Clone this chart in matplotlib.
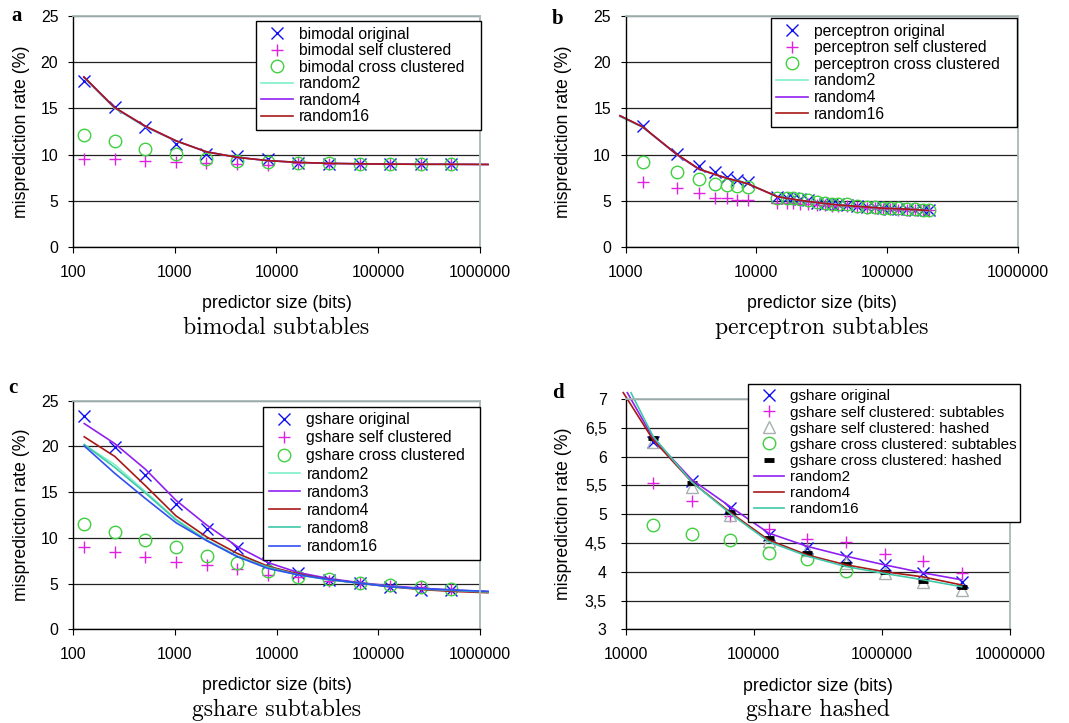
import matplotlib.pyplot as plt
import matplotlib.ticker as ticker

plt.rcParams['font.family'] = ['Liberation Sans', 'DejaVu Sans']

# ---------------- data ----------------
# panel a: bimodal subtables
a_size = [128, 256, 512, 1024, 2048, 4096, 8192, 16384, 32768, 65536,
          131072, 262144, 524288]
a_orig = [18.0, 15.2, 13.0, 11.1, 10.1, 9.8, 9.5, 9.1, 9.0, 9.0, 8.95, 8.95, 8.95]
a_self = [9.5, 9.5, 9.3, 9.15, 9.05, 8.95, 8.85, 9.05, 9.0, 9.0, 8.95, 8.95, 8.95]
a_cross = [12.1, 11.5, 10.55, 10.05, 9.5, 9.3, 9.15, 9.1, 9.05, 9.0, 8.95, 8.95, 8.95]
a_line_size = a_size + [1200000]
a_rand2 = [18.3, 15.0, 13.0, 11.45, 10.3, 9.7, 9.35, 9.15, 9.05, 9.0, 8.97, 8.95, 8.95, 8.93]
a_rand4 = [18.4, 15.1, 13.05, 11.5, 10.3, 9.7, 9.35, 9.15, 9.05, 9.0, 8.97, 8.95, 8.95, 8.93]
a_rand16 = [18.4, 15.1, 13.1, 11.5, 10.3, 9.7, 9.35, 9.15, 9.05, 9.0, 8.97, 8.95, 8.95, 8.93]

# panel b: perceptron subtables
b_size = [1350, 2450, 3640, 4820, 5930, 7150, 8570,
          14450, 17060, 19160, 21560, 24960,
          29250, 33490, 37700, 42350, 49100,
          59200, 69850, 80800, 93500, 105200,
          121900, 141300, 163400, 189200, 208000]
b_orig = [13.05, 10.05, 8.75, 8.1, 7.6, 7.25, 7.05,
          5.45, 5.35, 5.3, 5.2, 5.1,
          4.8, 4.7, 4.65, 4.6, 4.55,
          4.4, 4.3, 4.3, 4.2, 4.15,
          4.1, 4.1, 4.05, 4.0, 3.95]
b_self = [7.05, 6.35, 5.8, 5.35, 5.25, 5.1, 5.1,
          4.8, 4.75, 4.75, 4.7, 4.65,
          4.55, 4.5, 4.45, 4.4, 4.4,
          4.3, 4.2, 4.2, 4.15, 4.1,
          4.05, 4.05, 4.0, 4.0, 3.95]
b_cross = [9.25, 8.1, 7.35, 6.85, 6.7, 6.6, 6.5,
           5.35, 5.3, 5.25, 5.15, 5.1,
           4.85, 4.75, 4.7, 4.65, 4.6,
           4.4, 4.35, 4.3, 4.25, 4.2,
           4.2, 4.15, 4.1, 4.05, 4.0]
b_line_size = [904, 1349, 2456, 3640, 4819, 5925, 7145, 8570,
               14450, 21560, 29250, 42350, 59200, 93500, 141300, 208000]
b_rand2 = [14.1, 12.95, 10.0, 8.4, 7.85, 7.45, 7.15, 6.85, 5.45, 5.05, 4.8, 4.55, 4.4, 4.2, 4.1, 3.95]
b_rand4 = [14.2, 13.0, 10.0, 8.4, 7.85, 7.45, 7.15, 6.85, 5.45, 5.05, 4.8, 4.55, 4.4, 4.2, 4.1, 3.95]
b_rand16 = [14.2, 13.0, 10.05, 8.45, 7.85, 7.45, 7.15, 6.85, 5.45, 5.05, 4.8, 4.55, 4.4, 4.2, 4.1, 3.95]

# panel c: gshare subtables
c_size = a_size
c_orig = [23.3, 19.95, 16.85, 13.7, 10.95, 8.85, 7.3, 6.2, 5.4, 5.05, 4.6, 4.25, 4.3]
c_self = [9.05, 8.4, 7.95, 7.4, 7.05, 6.55, 5.95, 5.75, 5.3, 5.05, 4.75, 4.6, 4.4]
c_cross = [11.5, 10.65, 9.75, 8.95, 8.05, 7.3, 6.4, 5.75, 5.45, 5.05, 4.85, 4.6, 4.4]
c_line_size = a_line_size
c_rand2 = [20.2, 18.0, 15.05, 12.05, 9.8, 8.05, 6.85, 6.0, 5.45, 5.05, 4.7, 4.4, 4.25, 4.1]
c_rand3 = [22.5, 20.3, 17.5, 14.1, 11.4, 9.05, 7.3, 6.2, 5.55, 5.1, 4.75, 4.5, 4.3, 4.12]
c_rand4 = [21.05, 18.9, 15.7, 12.4, 10.1, 8.3, 6.9, 6.05, 5.45, 5.05, 4.65, 4.35, 4.15, 4.0]
c_rand8 = [20.2, 17.7, 14.9, 11.95, 9.7, 7.95, 6.8, 5.95, 5.4, 5.05, 4.68, 4.4, 4.25, 4.08]
c_rand16 = [20.05, 17.05, 14.3, 11.65, 9.7, 7.95, 6.65, 5.95, 5.45, 5.05, 4.65, 4.45, 4.3, 4.15]

# panel d: gshare hashed
d_size = [16384, 32768, 65536, 131072, 262144, 524288, 1048576, 2097152, 4194304]
d_orig = [6.26, 5.58, 5.10, 4.64, 4.41, 4.26, 4.12, 3.97, 3.82]
d_self_sub = [5.54, 5.22, 4.97, 4.74, 4.56, 4.51, 4.31, 4.19, 3.98]
d_self_hash = [6.25, 5.47, 4.99, 4.54, 4.38, 4.15, 3.97, 3.83, 3.69]
d_cross_sub = [4.82, 4.65, 4.55, 4.32, 4.22, 4.01]
d_cross_hash = [6.33, 5.54, 5.03, 4.58, 4.32, 4.13, 3.99, 3.84, 3.74]
d_rand2_size = [10300] + d_size
d_rand2 = [7.11, 6.32, 5.6, 5.13, 4.67, 4.44, 4.27, 4.12, 3.98, 3.86]
d_rand4_size = [9580] + d_size
d_rand4 = [7.11, 6.29, 5.56, 5.03, 4.55, 4.29, 4.12, 4.0, 3.91, 3.77]
d_rand16_size = [11000] + d_size
d_rand16 = [7.11, 6.35, 5.56, 5.01, 4.52, 4.27, 4.09, 3.97, 3.86, 3.74]

# ---------------- styles ----------------
BLUE = '#1010f0'
MAGENTA = '#e020e0'
GREEN = '#40d040'
GRAY = '#a8b0b0'
AQUA = '#80f0c8'
PURPLE = '#9020f0'
DARKRED = '#a81818'
TEAL = '#40c8a8'
LBLUE = '#3050f0'

TICK_FS = 11.4
LABEL_FS = 12.8
LEG_FS = 11.3
CAPTION_FS = 17


def style_axes(ax, xticks, ylim, yticks, ytick_labels):
    ax.set_xscale('log')
    ax.set_xlim(xticks[0], xticks[-1])
    ax.set_xticks(xticks)
    ax.xaxis.set_minor_locator(ticker.NullLocator())
    ax.xaxis.set_major_formatter(ticker.FuncFormatter(lambda v, p: '%d' % round(v)))
    ax.set_ylim(*ylim)
    ax.set_yticks(yticks)
    ax.set_yticklabels(ytick_labels)
    ax.yaxis.grid(True, color='#222222', lw=0.9)
    ax.set_axisbelow(True)
    for side in ('left', 'bottom'):
        ax.spines[side].set_color('black')
        ax.spines[side].set_linewidth(1.0)
    for side in ('top', 'right'):
        ax.spines[side].set_color('#a8b8b8')
        ax.spines[side].set_linewidth(1.3)
    ax.tick_params(axis='x', length=4, width=0.8, pad=9, labelsize=TICK_FS)
    ax.tick_params(axis='y', length=3.6, width=0.8, pad=7, labelsize=TICK_FS)


def finish(ax, ylab_x, caption):
    ax.set_xlabel('predictor size (bits)', fontsize=LABEL_FS)
    ax.xaxis.set_label_coords(0.5, -0.21)
    ax.set_ylabel('misprediction rate (%)', fontsize=LABEL_FS)
    ax.yaxis.set_label_coords(ylab_x, 0.5)
    ax.text(0.5, -0.352, caption, transform=ax.transAxes, ha='center', va='center',
            fontsize=CAPTION_FS, family='cmr10')


def legend(ax, left, right, top, labelspacing=0.1, fs=LEG_FS):
    # expand mode so the framed box gets the same width as in the original
    leg = ax.legend(loc='upper right', bbox_to_anchor=(left, top - 0.01, right - left, 0.01),
                    mode='expand', borderaxespad=0,
                    fontsize=fs, frameon=True, fancybox=False, framealpha=1,
                    edgecolor='black', borderpad=0.35, labelspacing=labelspacing,
                    handlelength=2.0, handletextpad=0.4)
    leg.get_frame().set_linewidth(1.0)
    leg.set_zorder(10)


fig = plt.figure(figsize=(10.69, 7.23), dpi=100)

mk_x = dict(ls='none', marker='x', ms=9, mew=1.0, color=BLUE)
mk_p = dict(ls='none', marker='+', ms=9, mew=1.0, color=MAGENTA)
mk_o = dict(ls='none', marker='o', ms=9, mew=1.0, mfc='none', mec=GREEN)
ln = dict(lw=1.2, clip_on=False)

# ---- panel a ----
ax = fig.add_axes([0.0683, 0.6584, 0.3807, 0.3195])
ax.plot(a_size, a_orig, label='bimodal original', **mk_x)
ax.plot(a_size, a_self, label='bimodal self clustered', **mk_p)
ax.plot(a_size, a_cross, label='bimodal cross clustered', **mk_o)
ax.plot(a_line_size, a_rand2, color=AQUA, label='random2', **ln)
ax.plot(a_line_size, a_rand4, color=PURPLE, label='random4', **ln)
ax.plot(a_line_size, a_rand16, color=DARKRED, label='random16', **ln)
style_axes(ax, [100, 1000, 10000, 100000, 1000000], (0, 25), [0, 5, 10, 15, 20, 25],
           ['0', '5', '10', '15', '20', '25'])
legend(ax, 0.4496, 1.002, 0.978)
finish(ax, -0.106, 'bimodal subtables')

# ---- panel b ----
ax = fig.add_axes([0.5853, 0.6584, 0.3667, 0.3195])
ax.plot(b_size, b_orig, label='perceptron original', **mk_x)
ax.plot(b_size, b_self, label='perceptron self clustered', **mk_p)
ax.plot(b_size, b_cross, label='perceptron cross clustered', **mk_o)
ax.plot(b_line_size, b_rand2, color=AQUA, label='random2', **ln)
ax.plot(b_line_size, b_rand4, color=PURPLE, label='random4', **ln)
ax.plot(b_line_size, b_rand16, color=DARKRED, label='random16', **ln)
style_axes(ax, [1000, 10000, 100000, 1000000], (0, 25), [0, 5, 10, 15, 20, 25],
           ['0', '5', '10', '15', '20', '25'])
legend(ax, 0.37, 0.997, 0.99)
finish(ax, -0.137, 'perceptron subtables')

# ---- panel c ----
ax = fig.add_axes([0.0686, 0.1296, 0.3804, 0.3162])
ax.plot(c_size, c_orig, label='gshare original', **mk_x)
ax.plot(c_size, c_self, label='gshare self clustered', **mk_p)
ax.plot(c_size, c_cross, label='gshare cross clustered', **mk_o)
ax.plot(c_line_size, c_rand2, color=AQUA, label='random2', **ln)
ax.plot(c_line_size, c_rand3, color=PURPLE, label='random3', **ln)
ax.plot(c_line_size, c_rand4, color=DARKRED, label='random4', **ln)
ax.plot(c_line_size, c_rand8, color=TEAL, label='random8', **ln)
ax.plot(c_line_size, c_rand16, color=LBLUE, label='random16', **ln)
style_axes(ax, [100, 1000, 10000, 100000, 1000000], (0, 25), [0, 5, 10, 15, 20, 25],
           ['0', '5', '10', '15', '20', '25'])
legend(ax, 0.467, 1.0, 0.974, labelspacing=0.2)
finish(ax, -0.106, 'gshare subtables')

# ---- panel d ----
ax = fig.add_axes([0.5853, 0.1296, 0.3595, 0.3185])
ax.plot(d_size, d_orig, label='gshare original', **mk_x)
ax.plot(d_size, d_self_sub, label='gshare self clustered: subtables', **mk_p)
ax.plot(d_size, d_self_hash, ls='none', marker='^', ms=9, mew=1.0, mfc='none', mec=GRAY,
        label='gshare self clustered: hashed')
ax.plot(d_size[:len(d_cross_sub)], d_cross_sub, label='gshare cross clustered: subtables', **mk_o)
ax.plot(d_size, d_cross_hash, ls='none', marker='_', ms=7, mew=3.5, color='black',
        label='gshare cross clustered: hashed')
ax.plot(d_rand2_size, d_rand2, color=PURPLE, label='random2', **ln)
ax.plot(d_rand4_size, d_rand4, color=DARKRED, label='random4', **ln)
ax.plot(d_rand16_size, d_rand16, color=TEAL, label='random16', **ln)
dy = [3, 3.5, 4, 4.5, 5, 5.5, 6, 6.5, 7]
style_axes(ax, [10000, 100000, 1000000, 10000000], (3, 7), dy,
           [('%g' % v).replace('.', ',') for v in dy])
ax.tick_params(axis='y', pad=10)
legend(ax, 0.319, 1.026, 1.065, labelspacing=0.14, fs=11.0)
finish(ax, -0.14, 'gshare hashed')

# panel letters
for lx, ly, s in [(17, 16, 'a'), (558, 19, 'b'), (13, 388, 'c'), (558, 393, 'd')]:
    fig.text(lx / 1069, 1 - ly / 723, s, ha='center', va='center', fontsize=15,
             fontweight='bold', family='Liberation Serif')

fig.savefig('out.png', dpi=100)
